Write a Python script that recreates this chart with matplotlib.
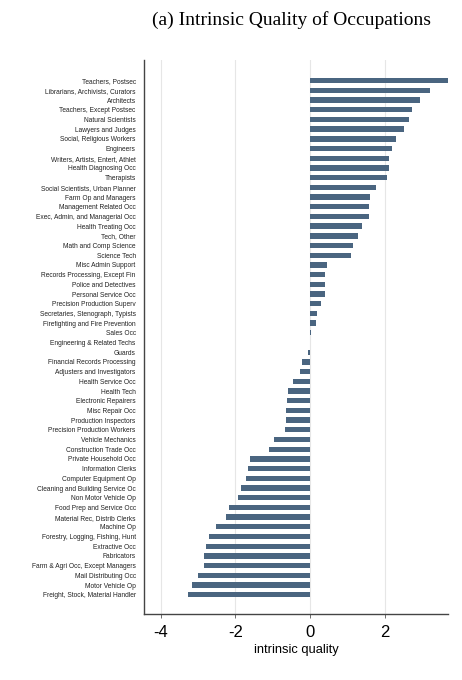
import matplotlib
matplotlib.use("Agg")
import matplotlib.pyplot as plt

occupations = [
    "Teachers, Postsec", "Librarians, Archivists, Curators", "Architects",
    "Teachers, Except Postsec", "Natural Scientists", "Lawyers and Judges",
    "Social, Religious Workers", "Engineers", "Writers, Artists, Entert, Athlet",
    "Health Diagnosing Occ", "Therapists", "Social Scientists, Urban Planner",
    "Farm Op and Managers", "Management Related Occ", "Exec, Admin, and Managerial Occ",
    "Health Treating Occ", "Tech, Other", "Math and Comp Science", "Science Tech",
    "Misc Admin Support", "Records Processing, Except Fin", "Police and Detectives",
    "Personal Service Occ", "Precision Production Superv", "Secretaries, Stenograph, Typists",
    "Firefighting and Fire Prevention", "Sales Occ", "Engineering & Related Techs",
    "Guards", "Financial Records Processing", "Adjusters and Investigators",
    "Health Service Occ", "Health Tech", "Electronic Repairers", "Misc Repair Occ",
    "Production Inspectors", "Precision Production Workers", "Vehicle Mechanics",
    "Construction Trade Occ", "Private Household Occ", "Information Clerks",
    "Computer Equipment Op", "Cleaning and Building Service Oc", "Non Motor Vehicle Op",
    "Food Prep and Service Occ", "Material Rec, Distrib Clerks", "Machine Op",
    "Forestry, Logging, Fishing, Hunt", "Extractive Occ", "Fabricators",
    "Farm & Agri Occ, Except Managers", "Mail Distributing Occ", "Motor Vehicle Op",
    "Freight, Stock, Material Handler",
]
quality = [
    3.70, 3.21, 2.95, 2.74, 2.65, 2.53, 2.31, 2.19, 2.13, 2.11, 2.06, 1.77,
    1.60, 1.59, 1.57, 1.40, 1.30, 1.15, 1.09, 0.45, 0.41, 0.41, 0.40, 0.29,
    0.18, 0.15, 0.03, -0.01, -0.05, -0.21, -0.26, -0.46, -0.58, -0.62, -0.63,
    -0.64, -0.67, -0.96, -1.11, -1.60, -1.66, -1.72, -1.85, -1.93, -2.17,
    -2.25, -2.53, -2.71, -2.79, -2.83, -2.85, -3.01, -3.16, -3.26,
]
xticks = [-4, -2, 0, 2]

fig = plt.figure(figsize=(4.62, 6.8), dpi=100)
ax = fig.add_axes([144/462, 1 - 614/680, (448-144)/462, (614-60)/680])

ypos = list(range(len(occupations)))
ax.barh(ypos, quality, height=0.55, color="#4a6580", zorder=3)
ax.set_yticks(ypos)
ax.set_yticklabels(occupations, fontsize=4.75, family="Liberation Sans", color="#222222")
ax.tick_params(axis="y", length=0, pad=6)
ax.set_ylim(54.99, -2.13)
ax.set_xlim(-4.45, 3.70)
ax.set_xticks(xticks)
ax.set_xticklabels([str(t) for t in xticks], fontsize=12, family="Liberation Sans")
ax.tick_params(axis="x", length=3, width=0.6, color="#555555", pad=5)
ax.grid(axis="x", color="#e6e6e6", linewidth=0.8, zorder=0)
ax.set_xlabel("intrinsic quality", fontsize=9.3, family="Liberation Sans", labelpad=3)
for s in ["top", "right"]:
    ax.spines[s].set_visible(False)
for s in ["left", "bottom"]:
    ax.spines[s].set_color("#444444")
    ax.spines[s].set_linewidth(1.0)

fig.text(291/462, 1 - 20/680, "(a) Intrinsic Quality of Occupations",
         ha="center", va="center", fontsize=14, family="Liberation Serif")

fig.savefig("out.png", dpi=100)
